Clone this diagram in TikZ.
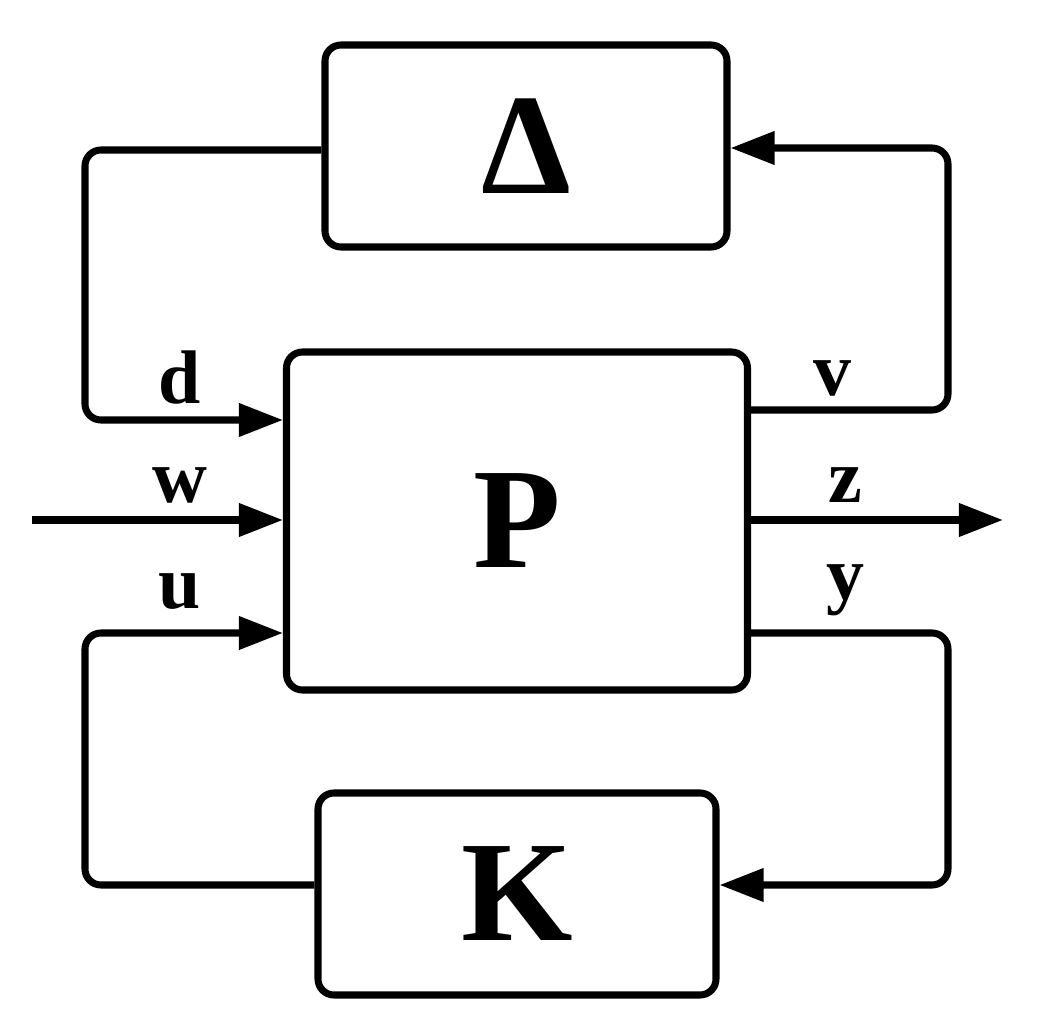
\documentclass[tikz,border=0pt]{standalone}
\usepackage{fontspec}
\setmainfont{Liberation Serif}
\usetikzlibrary{arrows.meta}
\begin{document}
\begin{tikzpicture}[x=0.025cm,y=-0.025cm,
  blk/.style={draw,line width=5pt,rounded corners=0.4cm,inner sep=0pt},
  wire/.style={line width=5pt,rounded corners=0.4cm},
  arr/.style={wire,-{Triangle[length=1.1cm,width=0.8cm]}},
  lab/.style={font=\bfseries\fontsize{54}{58}\selectfont},
  big/.style={font=\bfseries\fontsize{102}{108}\selectfont}]
\useasboundingbox (0,0) rectangle (1040,1023);
\node[blk,minimum width=402*0.025cm,minimum height=202*0.025cm] (D) at (526,146) {};
\node[big] (Dl) at (526,146) {Δ};
\node[blk,minimum width=461*0.025cm,minimum height=338*0.025cm] (P) at (517,521) {};
\node[big] (Pl) at (517,521) {P};
\node[blk,minimum width=398*0.025cm,minimum height=202*0.025cm] (K) at (517,894) {};
\node[big] (Kl) at (517,894) {K};
\coordinate (wi) at (32,520);
\coordinate (zo) at (1003,520);
\draw[arr] (D.west |- 0,150) -- (85,150) -- (85,420) -- (P.west |- 0,420);
\draw[arr] (P.east |- 0,410) -- (948,410) -- (948,148) -- (D.east |- 0,148);
\draw[arr] (wi) -- (P.west |- wi);
\draw[arr] (P.east |- zo) -- (zo);
\draw[arr] (P.east |- 0,633) -- (948,633) -- (948,885) -- (K.east |- 0,885);
\draw[arr] (K.west |- 0,885) -- (85,885) -- (85,633) -- (P.west |- 0,633);
\node[lab] (ld) at (180,378) {d};
\node[lab] (lw) at (180,485) {w};
\node[lab] (lu) at (180,592) {u};
\node[lab] (lv) at (832,378) {v};
\node[lab] (lz) at (845,485) {z};
\node[lab] (ly) at (845,590) {y};
\end{tikzpicture}
\end{document}
